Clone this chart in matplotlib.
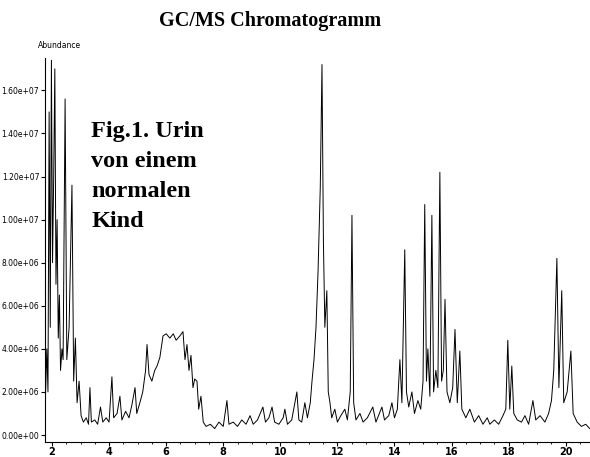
import numpy as np
import matplotlib.pyplot as plt
from matplotlib.ticker import MultipleLocator, FuncFormatter

# Retention time (min) and abundance (millions of counts)
zeit = [1.76, 1.82, 1.86, 1.90, 1.94, 1.98, 2.02, 2.06, 2.10, 2.14, 2.18, 2.22, 2.26, 2.30, 2.35,
        2.39, 2.46, 2.52, 2.60, 2.70, 2.76, 2.82, 2.88, 2.95, 3.02, 3.10, 3.20, 3.28, 3.33, 3.38,
        3.50, 3.60, 3.70, 3.78, 3.90, 4.00, 4.10, 4.16, 4.28, 4.38, 4.45, 4.58, 4.70, 4.80, 4.91,
        4.97, 5.08, 5.18, 5.28, 5.33, 5.40, 5.50, 5.60, 5.68, 5.78, 5.89, 6.00, 6.13, 6.25, 6.35,
        6.48, 6.59, 6.66, 6.73, 6.80, 6.87, 6.94, 7.00, 7.08, 7.14, 7.22, 7.30, 7.40, 7.55, 7.70,
        7.85, 8.00, 8.13, 8.20, 8.35, 8.50, 8.65, 8.80, 8.94, 9.05, 9.20, 9.39, 9.48, 9.60, 9.71,
        9.80, 9.95, 10.10, 10.16, 10.25, 10.40, 10.58, 10.65, 10.75, 10.86, 10.95, 11.05, 11.11,
        11.18, 11.25, 11.32, 11.40, 11.46, 11.51, 11.56, 11.63, 11.68, 11.74, 11.80, 11.91, 12.00,
        12.12, 12.26, 12.35, 12.45, 12.51, 12.57, 12.65, 12.79, 12.90, 13.05, 13.24, 13.35, 13.56,
        13.65, 13.80, 13.91, 14.00, 14.10, 14.19, 14.26, 14.36, 14.42, 14.50, 14.61, 14.70, 14.82,
        14.92, 15.00, 15.06, 15.12, 15.17, 15.24, 15.31, 15.37, 15.45, 15.52, 15.59, 15.65, 15.71,
        15.77, 15.84, 15.94, 16.04, 16.12, 16.20, 16.29, 16.36, 16.50, 16.64, 16.80, 16.95, 17.10,
        17.25, 17.34, 17.50, 17.65, 17.80, 17.90, 17.97, 18.04, 18.11, 18.18, 18.30, 18.45, 18.57,
        18.70, 18.85, 18.95, 19.10, 19.27, 19.40, 19.50, 19.58, 19.69, 19.76, 19.86, 19.93, 20.05,
        20.18, 20.26, 20.40, 20.55, 20.70, 20.84]
abundanz = [1.2, 4.0, 2.0, 15.0, 5.0, 17.4, 8.0, 12.0, 17.0, 7.0, 10.0, 4.5, 6.5, 3.0, 4.0,
            3.5, 15.6, 3.5, 5.0, 11.6, 2.5, 4.5, 1.5, 2.5, 0.9, 0.6, 0.8, 0.5, 2.2, 0.6,
            0.7, 0.5, 1.3, 0.6, 0.8, 0.6, 2.7, 0.8, 1.0, 1.8, 0.7, 1.1, 0.8, 1.4, 2.2,
            1.0, 1.5, 2.0, 3.0, 4.2, 2.8, 2.5, 3.0, 3.2, 3.6, 4.6, 4.7, 4.5, 4.7, 4.4,
            4.6, 4.8, 3.5, 4.2, 3.0, 3.7, 2.2, 2.6, 2.5, 1.2, 1.8, 0.6, 0.4, 0.5, 0.3,
            0.6, 0.4, 1.6, 0.5, 0.6, 0.4, 0.7, 0.5, 0.9, 0.5, 0.7, 1.3, 0.6, 0.8, 1.3,
            0.6, 0.5, 0.8, 1.2, 0.5, 0.7, 2.0, 0.7, 0.6, 1.5, 0.8, 1.5, 2.5,
            3.5, 5.0, 7.5, 11.5, 17.2, 9.0, 5.0, 6.7, 2.0, 1.5, 0.8, 1.2, 0.6,
            0.9, 1.2, 0.7, 2.0, 10.2, 1.5, 0.7, 1.0, 0.6, 0.8, 1.3, 0.6, 1.3,
            0.7, 0.9, 1.5, 0.8, 1.2, 3.5, 1.5, 8.6, 2.0, 1.3, 2.0, 1.0, 1.6,
            1.2, 2.5, 10.7, 2.5, 4.0, 1.8, 10.2, 2.0, 3.0, 2.2, 12.2, 2.5, 3.0,
            6.3, 2.0, 1.5, 2.2, 4.9, 1.5, 3.9, 1.2, 0.8, 1.2, 0.6, 0.9, 0.5,
            0.8, 0.5, 0.7, 0.5, 0.9, 1.2, 4.4, 1.2, 3.2, 1.0, 0.7, 0.6, 0.9,
            0.5, 1.6, 0.7, 0.9, 0.6, 1.0, 1.6, 3.0, 8.2, 2.2, 6.7, 1.5, 2.0,
            3.9, 1.0, 0.6, 0.4, 0.5, 0.3]

y_ticks = [0, 2e6, 4e6, 6e6, 8e6, 1e7, 1.2e7, 1.4e7, 1.6e7]
x_ticks = [2, 4, 6, 8, 10, 12, 14, 16, 18, 20]

fig = plt.figure(figsize=(5.9, 4.57), dpi=100)
ax = fig.add_axes([0.076, 0.033, 0.924, 0.84])

ax.plot(zeit, np.array(abundanz) * 1e6, color='black', linewidth=0.7)

ax.set_xlim(1.75, 20.85)
ax.set_ylim(-0.32e6, 17.5e6)
ax.set_xticks(x_ticks)
ax.xaxis.set_minor_locator(MultipleLocator(0.5))
ax.set_yticks(y_ticks)
ax.yaxis.set_major_formatter(FuncFormatter(lambda v, p: '%.2e' % v))
ax.tick_params(axis='y', labelsize=5.5, length=3, pad=1)
ax.tick_params(axis='x', labelsize=7, length=3, pad=1)
ax.tick_params(axis='x', which='minor', length=1.5)
for lab in ax.get_xticklabels():
    lab.set_fontweight('bold')
ax.spines['top'].set_visible(False)
ax.spines['right'].set_visible(False)

fig.text(0.458, 0.955, 'GC/MS Chromatogramm', ha='center', va='center',
         family='Liberation Serif', fontweight='bold', fontsize=14.5)
fig.text(0.065, 0.90, 'Abundance', ha='left', va='center', fontsize=5.5)
ax.text(0.085, 0.835, 'Fig.1. Urin\nvon einem\nnormalen\nKind', transform=ax.transAxes,
        ha='left', va='top', family='Liberation Serif', fontweight='bold',
        fontsize=17.5, linespacing=1.55)

plt.savefig('out.png', dpi=100)
